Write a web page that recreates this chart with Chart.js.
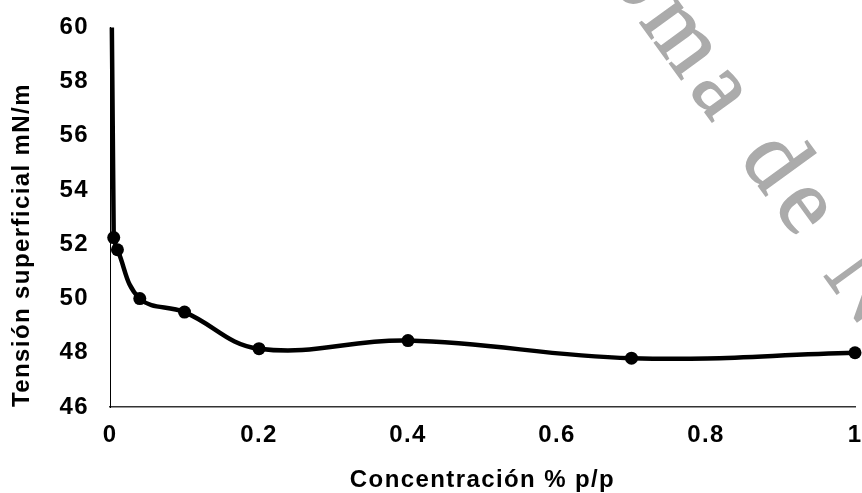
<!DOCTYPE html>
<html>
<head>
<meta charset="utf-8">
<script src="https://cdn.jsdelivr.net/npm/chart.js@4"></script>
<style>
  html, body { margin: 0; padding: 0; background: #fff; }
  #wrap { width: 862px; height: 493px; }
</style>
</head>
<body>
<div id="wrap"><canvas id="tensionChart"></canvas></div>
<script>
// Concentration (% p/p) and measured surface tension (mN/m)
const concentracion = [0, 0.005, 0.01, 0.04, 0.1, 0.2, 0.4, 0.7, 1];
const tension = [72, 52.25, 51.8, 50.0, 49.5, 48.15, 48.45, 47.8, 48.0];

const yTicksMin = 46;
const yTicksMax = 60;
const yStep = 2;
const xStep = 0.2;

const fontFamily = '"Liberation Sans", Arial, sans-serif';
const spacing = '1.4px';

// Slightly wider letter spacing for chart text (canvas state is reset on resize)
const letterSpacingPlugin = {
    id: 'letterSpacing',
    beforeUpdate(chart) { chart.ctx.letterSpacing = spacing; },
    beforeDraw(chart) { chart.ctx.letterSpacing = spacing; }
};

// Grey diagonal watermark behind the data
const watermarkPlugin = {
    id: 'watermark',
    beforeDatasetsDraw(chart) {
        const ctx = chart.ctx;
        const text = 'Universidad Autónoma de Nuevo León';
        const prefix = 'Universidad Autónom';
        ctx.save();
        ctx.letterSpacing = '10px';
        ctx.font = '95px "Liberation Serif", "Times New Roman", serif';
        ctx.fillStyle = '#ababab';
        ctx.strokeStyle = '#ababab';
        ctx.lineWidth = 1.5;
        ctx.textBaseline = 'alphabetic';
        ctx.textAlign = 'left';
        const offset = ctx.measureText(prefix).width;
        ctx.translate(688, 89);
        ctx.rotate(54 * Math.PI / 180);
        ctx.fillText(text, -offset, 0);
        ctx.strokeText(text, -offset, 0);
        ctx.restore();
    }
};

const points = concentracion.map((c, i) => ({ x: c, y: tension[i] }));

const ctx = document.getElementById('tensionChart').getContext('2d');
new Chart(ctx, {
    type: 'line',
    data: {
        datasets: [{
            data: points,
            borderColor: '#000',
            backgroundColor: '#000',
            borderWidth: 4.5,
            pointRadius: 6.5,
            pointHoverRadius: 6.5,
            pointBorderWidth: 0,
            tension: 0.4,
            fill: false,
            clip: { left: 6, top: 0, right: 8, bottom: 6 }
        }]
    },
    options: {
        responsive: true,
        maintainAspectRatio: false,
        animation: false,
        events: [],
        layout: {
            padding: { top: 24, right: 0, bottom: 0, left: 0 }
        },
        plugins: {
            legend: { display: false },
            tooltip: { enabled: false }
        },
        scales: {
            x: {
                type: 'linear',
                min: 0,
                max: 1,
                grid: { display: false },
                border: { display: true, color: '#333', width: 1.5 },
                ticks: {
                    stepSize: xStep,
                    padding: 6,
                    color: '#000',
                    font: { family: fontFamily, size: 24, weight: 'bold' },
                    maxRotation: 0,
                    callback: value => String(+value.toFixed(1))
                },
                title: {
                    display: true,
                    text: 'Concentración % p/p',
                    color: '#000',
                    font: { family: fontFamily, size: 24, weight: 'bold' },
                    padding: { top: 0, bottom: -2 }
                },
                afterFit(scale) {
                    scale.height = 86;
                    scale.paddingLeft = 0;
                    scale.paddingRight = 7;
                }
            },
            y: {
                min: yTicksMin,
                max: yTicksMax,
                grid: { display: false },
                border: { display: true, color: '#000', width: 1 },
                ticks: {
                    stepSize: yStep,
                    padding: 13,
                    color: '#000',
                    font: { family: fontFamily, size: 24, weight: 'bold' }
                },
                title: {
                    display: true,
                    text: 'Tensión superficial mN/m',
                    align: 'start',
                    color: '#000',
                    font: { family: fontFamily, size: 24, weight: 'bold' },
                    padding: 8
                },
                afterFit(scale) { scale.width = 110; }
            }
        }
    },
    plugins: [letterSpacingPlugin, watermarkPlugin]
});
</script>
</body>
</html>
